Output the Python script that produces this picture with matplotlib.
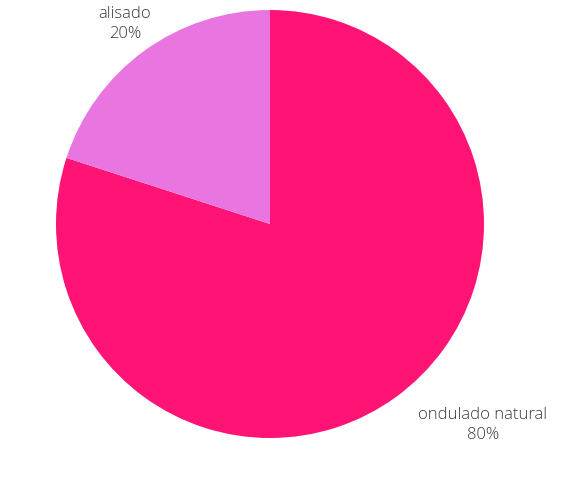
import matplotlib.pyplot as plt

labels = ['ondulado natural', 'alisado']
values = [80, 20]
colors = ['#FF1475', '#E875E0']

fig = plt.figure(figsize=(5.76, 4.87), dpi=100)
# center (270, 224) px, radius 214 px
ax = fig.add_axes([(270 - 214) / 576, (487 - 224 - 214) / 487, 428 / 576, 428 / 487])

ax.pie(values, colors=colors, startangle=90, counterclock=False, radius=1,
       wedgeprops=dict(linewidth=0))
ax.set_xlim(-1, 1)
ax.set_ylim(-1, 1)
ax.axis('off')

label_pos = [(0.995, -0.94), (-0.678, 0.935)]
for lab, val, (x, y) in zip(labels, values, label_pos):
    ax.text(x, y, f'{lab}\n{val}%', ha='center', va='center',
            fontsize=12, color='#3a3a3a', family=['Open Sans', 'DejaVu Sans'],
            fontweight='light', linespacing=1.3)

fig.savefig('out.png', dpi=100)
